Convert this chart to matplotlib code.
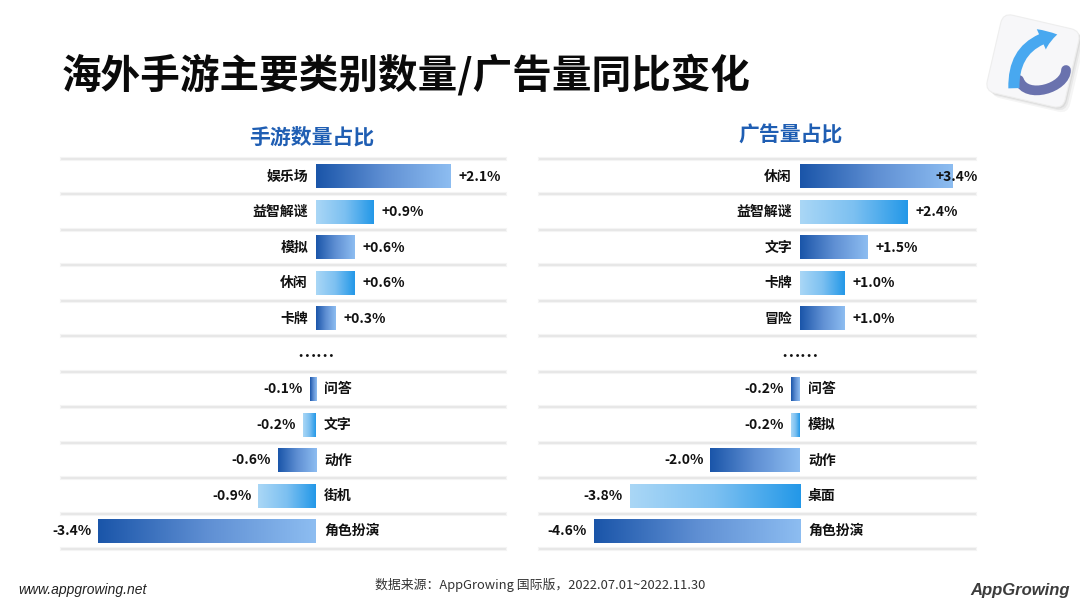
import matplotlib
matplotlib.use("Agg")
import matplotlib.pyplot as plt
import numpy as np
from matplotlib.colors import LinearSegmentedColormap
from matplotlib.patches import FancyBboxPatch, FancyArrowPatch, PathPatch
from matplotlib.path import Path
from matplotlib.transforms import Affine2D

plt.rcParams['font.family'] = ['Noto Sans CJK SC', 'DejaVu Sans']

# ---------------- data ----------------
title = "海外手游主要类别数量/广告量同比变化"
left_title = "手游数量占比"
right_title = "广告量占比"

left_top_cats = ['娱乐场', '益智解谜', '模拟', '休闲', '卡牌']
left_top_vals = [2.1, 0.9, 0.6, 0.6, 0.3]
left_bot_cats = ['问答', '文字', '动作', '街机', '角色扮演']
left_bot_vals = [-0.1, -0.2, -0.6, -0.9, -3.4]

right_top_cats = ['休闲', '益智解谜', '文字', '卡牌', '冒险']
right_top_vals = [3.4, 2.4, 1.5, 1.0, 1.0]
right_bot_cats = ['问答', '模拟', '动作', '桌面', '角色扮演']
right_bot_vals = [-0.2, -0.2, -2.0, -3.8, -4.6]

gap_text = "……"
source_text = "数据来源：AppGrowing 国际版，2022.07.01~2022.11.30"
site_text = "www.appgrowing.net"
brand_text = "AppGrowing"

# ---------------- style ----------------
W, H = 1080, 608
fig = plt.figure(figsize=(W / 100, H / 100), dpi=100)
fig.patch.set_facecolor('white')

cmap_a = LinearSegmentedColormap.from_list('a', ['#1a55a9', '#5f8fd3', '#8dbdf1'])
cmap_b = LinearSegmentedColormap.from_list('b', ['#aad7f6', '#7cc0f1', '#2398e8'])
grad = np.linspace(0, 1, 256).reshape(1, -1)


def px_axes(x0, x1, y0, y1):
    return fig.add_axes([x0 / W, 1 - y1 / H, (x1 - x0) / W, (y1 - y0) / H])


def draw_panel(ax, top_cats, top_vals, bot_cats, bot_vals, xlim):
    cats = top_cats + [None] + bot_cats
    vals = top_vals + [np.nan] + bot_vals
    ys = np.arange(len(cats))
    ax.set_xlim(*xlim)
    ax.set_ylim(len(cats) - 0.5, -0.5)
    ax.axis('off')
    for yy in np.arange(len(cats) + 1) - 0.5:
        ax.axhline(yy, color='#f4f4f4', lw=3.0, zorder=1, clip_on=False)
        ax.axhline(yy, color='#e6e6e6', lw=1.3, zorder=1, clip_on=False)
    bh = 0.66
    bars = ax.barh(ys, np.nan_to_num(vals), height=bh, color='none', zorder=2)
    k = 0
    texts = []
    for i, (c, v, p) in enumerate(zip(cats, vals, bars.patches)):
        if c is None:
            ax.annotate(gap_text, (0, ys[i]), xytext=(0, -4), textcoords='offset pixels',
                        ha='center', va='center', fontsize=13.5,
                        fontweight='bold', color='#111111')
            k = 0
            continue
        x0, w = p.get_x(), p.get_width()
        cm = cmap_a if k % 2 == 0 else cmap_b
        k += 1
        ax.imshow(grad, cmap=cm, aspect='auto', interpolation='bilinear',
                  extent=(min(x0, x0 + w), max(x0, x0 + w), ys[i] + bh / 2, ys[i] - bh / 2),
                  zorder=3)
        lab = f"{v:+.1f}%"
        if v >= 0:
            ax.annotate(c, (0, ys[i]), xytext=(-8, 0), textcoords='offset pixels',
                        ha='right', va='center', fontsize=10, fontweight='bold', color='#111111')
            t = ax.annotate(lab, (v, ys[i]), xytext=(8, 0), textcoords='offset pixels',
                            ha='left', va='center', fontsize=10, fontweight='bold',
                            color='#111111', zorder=5)
        else:
            ax.annotate(c, (0, ys[i]), xytext=(8, 0), textcoords='offset pixels',
                        ha='left', va='center', fontsize=10, fontweight='bold', color='#111111')
            t = ax.annotate(lab, (v, ys[i]), xytext=(-7, 0), textcoords='offset pixels',
                            ha='right', va='center', fontsize=10, fontweight='bold',
                            color='#111111', zorder=5)
        texts.append(t)
    ax.set_xlim(*xlim)
    ax.set_ylim(len(cats) - 0.5, -0.5)
    return texts


ax_l = px_axes(62, 505, 159, 549)
ax_r = px_axes(540, 975, 159, 549)
tl = draw_panel(ax_l, left_top_cats, left_top_vals, left_bot_cats, left_bot_vals,
                (-254 / 64, 189 / 64))
tr = draw_panel(ax_r, right_top_cats, right_top_vals, right_bot_cats, right_bot_vals,
                (-260 / 44.8, 175 / 44.8))

# keep value labels inside the slide area
fig.canvas.draw()
rend = fig.canvas.get_renderer()
for texts, lo, hi in [(tl, 47, 520), (tr, 530, 978)]:
    for t in texts:
        bb = t.get_window_extent(rend)
        dx = 0
        if bb.x1 > hi:
            dx = hi - bb.x1
        elif bb.x0 < lo:
            dx = lo - bb.x0
        if dx:
            ox, oy = t.xyann
            t.xyann = (ox + dx, oy)

# ---------------- texts ----------------
fig.text(62 / W, 1 - 76 / H, title, ha='left', va='center', fontsize=28.5,
         fontweight='heavy', color='#0a0a0a')
fig.text(312 / W, 1 - 137 / H, left_title, ha='center', va='center', fontsize=15,
         fontweight='bold', color='#1f5eb3')
fig.text(791 / W, 1 - 135 / H, right_title, ha='center', va='center', fontsize=15,
         fontweight='bold', color='#1f5eb3')
fig.text(18 / W, 1 - 590 / H, site_text, ha='left', va='center', fontsize=10,
         fontstyle='italic', family='Liberation Sans', color='#222222')
fig.text(540 / W, 1 - 585 / H, source_text, ha='center', va='center', fontsize=9.3,
         color='#333333')
fig.text(1070 / W, 1 - 590 / H, brand_text, ha='right', va='center', fontsize=12,
         fontstyle='italic', fontweight='bold', family='Liberation Sans', color='#3c3c3c')

# ---------------- icon (top right) ----------------
ov = fig.add_axes([0, 0, 1, 1], facecolor='none')
ov.set_xlim(0, W)
ov.set_ylim(H, 0)
ov.axis('off')
for off, a in [(5, 0.04), (3, 0.05), (1.5, 0.06)]:
    sh = FancyBboxPatch((-40, -40), 80, 80, boxstyle='round,pad=0,rounding_size=10',
                        fc='#000000', ec='none', alpha=a,
                        transform=Affine2D().rotate_deg(13).translate(1033 + off, 61 + off) + ov.transData)
    ov.add_patch(sh)
sq = FancyBboxPatch((-40, -40), 80, 80, boxstyle='round,pad=0,rounding_size=10',
                    fc='#f7f7f9', ec='#eeeeee', lw=0.8,
                    transform=Affine2D().rotate_deg(13).translate(1033, 61) + ov.transData)
ov.add_patch(sq)
hook = Path([(1019, 80), (1026, 100), (1066, 88), (1066, 70)],
            [Path.MOVETO, Path.CURVE4, Path.CURVE4, Path.CURVE4])
ov.add_patch(PathPatch(hook, fc='none', ec='#6a72ae', lw=7, capstyle='round'))
arr = FancyArrowPatch((1014, 91), (1060, 34), connectionstyle='arc3,rad=-0.45',
                      arrowstyle='simple,head_width=1.6,head_length=1.2,tail_width=0.8',
                      mutation_scale=10, fc='#48a8f0', ec='none')
ov.add_patch(arr)

fig.savefig('out.png', dpi=100, facecolor='white')
